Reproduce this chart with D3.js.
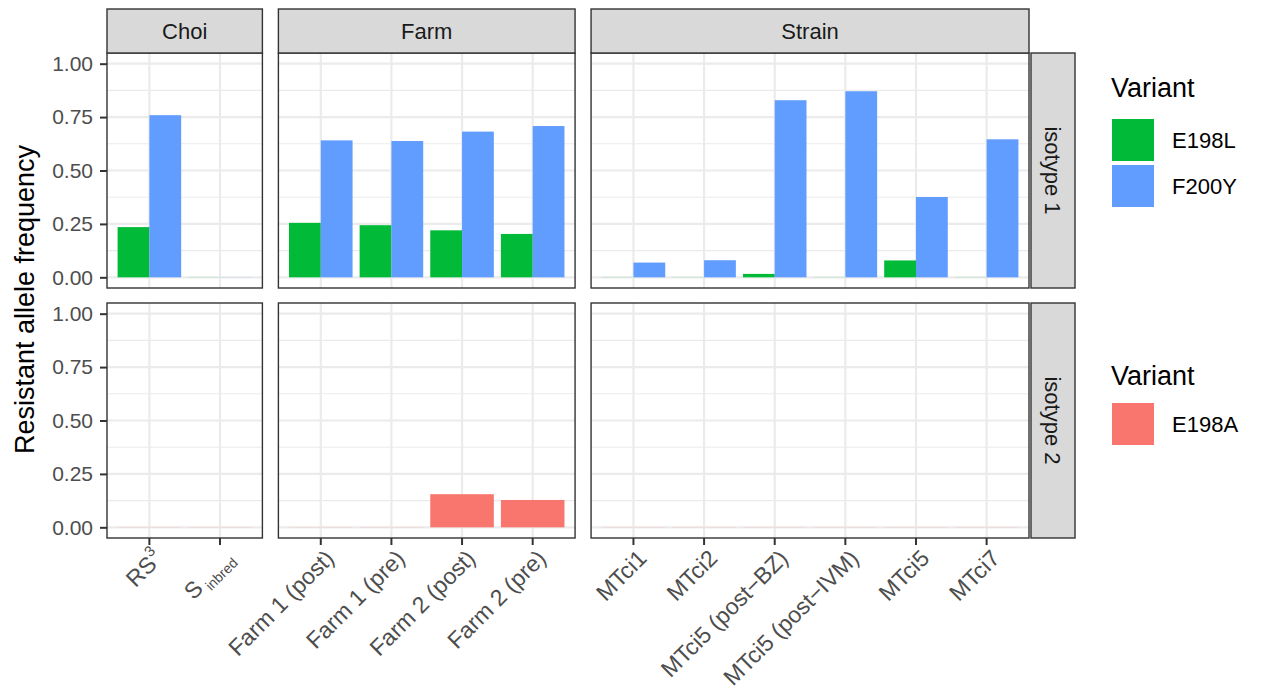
<!DOCTYPE html>
<html>
<head>
<meta charset="utf-8">
<script src="https://cdn.jsdelivr.net/npm/d3@7"></script>
<style>
  body { margin: 0; background: #fff; }
  text { font-family: "Liberation Sans", Arial, Helvetica, sans-serif; }
</style>
</head>
<body>
<div id="chart"></div>
<script>
// Facets and their samples (x categories)
var facetNames = ["Choi", "Farm", "Strain"];
var choiSamples = ["RS3", "S inbred"];
var farmSamples = ["Farm 1 (post)", "Farm 1 (pre)", "Farm 2 (post)", "Farm 2 (pre)"];
var strainSamples = ["MTci1", "MTci2", "MTci5 (post\u2212BZ)", "MTci5 (post\u2212IVM)", "MTci5", "MTci7"];
var isotypes = ["isotype 1", "isotype 2"];
var isotype1Variants = ["E198L", "F200Y"];
var isotype2Variants = ["E198A"];

// Values in sample order: Choi, Farm, Strain
var e198L = [0.235, 0, 0.255, 0.244, 0.220, 0.203, 0, 0, 0.016, 0, 0.079, 0];
var f200Y = [0.759, 0, 0.641, 0.638, 0.682, 0.708, 0.069, 0.080, 0.829, 0.871, 0.376, 0.646];
var e198A = [0, 0, 0, 0, 0.155, 0.128, 0, 0, 0, 0, 0, 0];

var yTicks = [0, 0.25, 0.5, 0.75, 1];
var yMinor = [0.125, 0.375, 0.625, 0.875];

var variantColor = d3.scaleOrdinal()
    .domain(["E198L", "F200Y", "E198A"])
    .range(["#00BA38", "#619CFF", "#F8766D"]);

// Layout
var width = 1261, height = 696;
var plotLeft = 107, plotRight = 1029, gap = 16;
var stripTop = 9, stripH = 44;
var rowTops = [53, 303], panelH = 235;
var gridCol = "#EBEBEB", borderCol = "#333333";

var svg = d3.select("#chart").append("svg")
    .attr("width", width)
    .attr("height", height);

// long table built from the arrays
var allSamples = choiSamples.concat(farmSamples, strainSamples);
var facetOf = allSamples.map(function (s, i) {
    return i < 2 ? "Choi" : (i < 6 ? "Farm" : "Strain");
});
var rows = [[], []];
allSamples.forEach(function (s, i) {
    rows[0].push({ sample: s, facet: facetOf[i], variant: "E198L", value: e198L[i] });
    rows[0].push({ sample: s, facet: facetOf[i], variant: "F200Y", value: f200Y[i] });
    rows[1].push({ sample: s, facet: facetOf[i], variant: "E198A", value: e198A[i] });
});

// x scales per facet (free space, ggplot discrete expansion 0.6)
var facetSamples = [choiSamples, farmSamples, strainSamples];
var totalUnits = d3.sum(facetSamples, function (c) { return c.length + 0.2; });
var unit = (plotRight - plotLeft - gap * (facetSamples.length - 1)) / totalUnits;
var xScales = {};
var cursor = plotLeft;
facetSamples.forEach(function (cats, k) {
    var w = unit * (cats.length + 0.2);
    xScales[facetNames[k]] = d3.scaleBand().domain(cats)
        .range([cursor, cursor + w]).paddingInner(0).paddingOuter(0.1);
    cursor += w + gap;
});

var variantSets = [isotype1Variants, isotype2Variants];

rowTops.forEach(function (top, r) {
    var y = d3.scaleLinear().domain([-0.05, 1.05]).range([top + panelH, top]);

    facetNames.forEach(function (f) {
        var x = xScales[f];
        var x0 = x.range()[0], x1 = x.range()[1];
        var g = svg.append("g");

        g.append("rect").attr("x", x0).attr("y", top)
            .attr("width", x1 - x0).attr("height", panelH).attr("fill", "#fff");

        // minor grid
        g.selectAll(".minor").data(yMinor).enter().append("line")
            .attr("x1", x0).attr("x2", x1)
            .attr("y1", function (d) { return y(d); })
            .attr("y2", function (d) { return y(d); })
            .attr("stroke", gridCol).attr("stroke-width", 1.1);
        // major grid
        g.selectAll(".major").data(yTicks).enter().append("line")
            .attr("x1", x0).attr("x2", x1)
            .attr("y1", function (d) { return y(d); })
            .attr("y2", function (d) { return y(d); })
            .attr("stroke", gridCol).attr("stroke-width", 2.2);
        g.selectAll(".vgrid").data(x.domain()).enter().append("line")
            .attr("x1", function (d) { return x(d) + x.bandwidth() / 2; })
            .attr("x2", function (d) { return x(d) + x.bandwidth() / 2; })
            .attr("y1", top).attr("y2", top + panelH)
            .attr("stroke", gridCol).attr("stroke-width", 2.2);

        // bars, dodged within 0.9 of the band
        var vars = variantSets[r];
        var data = rows[r].filter(function (d) { return d.facet === f; });
        g.selectAll(".bar").data(data).enter().append("rect")
            .attr("x", function (d) {
                var c = x(d.sample) + x.bandwidth() / 2;
                var inner = d3.scaleBand().domain(vars)
                    .range([c - 0.45 * x.bandwidth(), c + 0.45 * x.bandwidth()]);
                return inner(d.variant);
            })
            .attr("width", 0.9 * x.bandwidth() / vars.length)
            .attr("y", function (d) { return d.value > 0 ? y(d.value) : y(0) - 0.5; })
            .attr("height", function (d) { return d.value > 0 ? y(0) - y(d.value) : 1; })
            .attr("fill", function (d) { return variantColor(d.variant); })
            .attr("fill-opacity", function (d) { return d.value > 0 ? 1 : 0.12; });

        g.append("rect").attr("x", x0).attr("y", top)
            .attr("width", x1 - x0).attr("height", panelH)
            .attr("fill", "none").attr("stroke", borderCol).attr("stroke-width", 1.4);

        // top strips
        if (r === 0) {
            svg.append("rect").attr("x", x0).attr("y", stripTop)
                .attr("width", x1 - x0).attr("height", stripH)
                .attr("fill", "#D9D9D9").attr("stroke", borderCol).attr("stroke-width", 1.4);
            svg.append("text").attr("x", (x0 + x1) / 2).attr("y", stripTop + stripH / 2)
                .attr("dy", "0.36em").attr("text-anchor", "middle")
                .attr("font-size", "22px").attr("fill", "#1A1A1A").text(f);
        }

        // x axis under bottom row
        if (r === 1) {
            var ax = svg.append("g").attr("transform", "translate(0," + (top + panelH) + ")")
                .call(d3.axisBottom(x).tickSize(7).tickFormat(""));
            ax.select(".domain").remove();
            ax.selectAll(".tick line").attr("stroke", borderCol).attr("stroke-width", 2);
            x.domain().forEach(function (s) {
                var t = svg.append("text")
                    .attr("transform", "translate(" + (x(s) + x.bandwidth() / 2 + 3) + "," + (top + panelH + 10) + ") rotate(-45)")
                    .attr("text-anchor", "end").attr("dy", "0.72em")
                    .attr("font-size", "23px").attr("fill", "#4D4D4D");
                if (s === "RS3") {
                    t.append("tspan").text("RS");
                    t.append("tspan").attr("font-size", "15px").attr("dy", "-0.75em").text("3");
                } else if (s === "S inbred") {
                    t.append("tspan").text("S");
                    t.append("tspan").attr("font-size", "14px").attr("dy", "0.4em").text(" inbred");
                } else {
                    t.text(s);
                }
            });
        }
    });

    // y axis on the left
    var ay = svg.append("g").attr("transform", "translate(" + plotLeft + ",0)")
        .call(d3.axisLeft(y).tickValues(yTicks).tickFormat(d3.format(".2f")).tickSize(7).tickPadding(7));
    ay.select(".domain").remove();
    ay.selectAll(".tick line").attr("stroke", borderCol).attr("stroke-width", 2);
    ay.selectAll(".tick text").attr("font-size", "21px").attr("fill", "#4D4D4D")
        .attr("font-family", "'Liberation Sans', Arial, sans-serif");

    // right strip
    var sx = plotRight + 2;
    svg.append("rect").attr("x", sx).attr("y", top)
        .attr("width", stripH).attr("height", panelH)
        .attr("fill", "#D9D9D9").attr("stroke", borderCol).attr("stroke-width", 1.4);
    svg.append("text")
        .attr("transform", "translate(" + (sx + stripH / 2) + "," + (top + panelH / 2) + ") rotate(90)")
        .attr("dy", "0.36em").attr("text-anchor", "middle")
        .attr("font-size", "22px").attr("fill", "#1A1A1A").text(isotypes[r]);
});

// y axis title
svg.append("text")
    .attr("transform", "translate(34," + ((rowTops[0] + rowTops[1] + panelH) / 2 + 4) + ") rotate(-90)")
    .attr("text-anchor", "middle").attr("font-size", "27px").attr("fill", "#000")
    .text("Resistant allele frequency");

// legends
var legendX = 1111, keySize = 42, keyStep = 46;
var legends = [
    { titleY: 97, keyY: 119, items: isotype1Variants },
    { titleY: 385, keyY: 403, items: isotype2Variants }
];
legends.forEach(function (L) {
    var lg = svg.append("g");
    lg.append("text").attr("x", legendX).attr("y", L.titleY)
        .attr("font-size", "27px").attr("fill", "#000").text("Variant");
    var items = lg.selectAll(".item").data(L.items).enter().append("g")
        .attr("transform", function (d, i) { return "translate(" + (legendX + 1) + "," + (L.keyY + i * keyStep) + ")"; });
    items.append("rect").attr("width", keySize).attr("height", keySize)
        .attr("fill", function (d) { return variantColor(d); });
    items.append("text").attr("x", keySize + 18).attr("y", keySize / 2)
        .attr("dy", "0.36em").attr("font-size", "22px").attr("fill", "#000")
        .text(function (d) { return d; });
});
</script>
</body>
</html>
